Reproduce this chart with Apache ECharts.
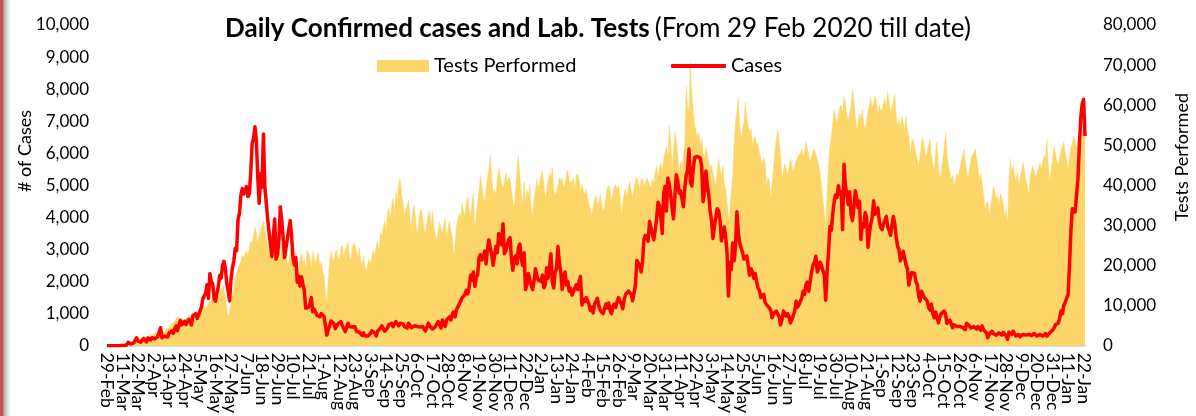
<!DOCTYPE html>
<html>
<head>
<meta charset="UTF-8">
<title>Daily Confirmed cases and Lab. Tests</title>
<script src="https://cdn.jsdelivr.net/npm/echarts@6/dist/echarts.min.js"></script>
<style>
  html, body { margin: 0; padding: 0; background: #fff; }
  #main { width: 1196px; height: 416px; }
</style>
</head>
<body>
<div id="main"></div>
<script type="text/javascript">
// first day shown on the x axis, one category per day
var firstDay = Date.UTC(2020, 1, 29);
var monthNames = ['Jan', 'Feb', 'Mar', 'Apr', 'May', 'Jun', 'Jul', 'Aug', 'Sep', 'Oct', 'Nov', 'Dec'];
var labelEvery = 11; // one date label every 11 days

// daily confirmed cases, one row = 11 days
var casesDaily = [
  2,0,1,0,0,1,0,0,2,3,4,
  1,5,6,22,105,52,55,78,89,146,244,
  140,160,110,150,220,170,120,240,220,180,250,
  230,210,240,280,270,560,250,260,300,320,270,
  390,430,460,380,520,610,470,510,790,650,600,
  760,660,740,820,800,650,940,900,1000,850,960,
  1080,1200,1460,1500,1640,1900,1480,2250,2000,1930,1470,
  1390,1650,1850,2200,2100,2500,2630,2400,1950,1700,1400,
  2080,2430,2640,3040,2960,3940,4130,4690,4900,4730,4730,
  4960,4650,4730,5390,6300,6470,6830,6400,5250,4440,5360,
  4940,6600,4950,4470,3950,3890,3140,2780,3390,3950,2700,
  2850,3300,4330,3900,3380,2750,2760,3340,3350,3900,3400,
  2750,2520,2750,1980,2170,1860,2150,1920,1740,1170,1230,
  1200,1300,1500,1060,1140,1080,950,1000,900,1000,950,
  920,640,330,480,620,770,800,690,530,540,690,
  640,750,620,590,440,550,700,600,650,580,600,
  590,450,480,420,380,320,400,300,250,300,350,
  380,460,500,400,300,450,480,550,620,540,450,
  440,550,660,600,700,590,640,750,780,620,700,
  750,680,600,630,550,700,710,560,580,620,570,
  600,630,580,520,600,650,460,520,700,620,640,
  520,480,590,620,750,700,550,800,720,600,800,
  750,900,800,980,1050,900,1120,1170,1300,1380,1500,
  1440,1590,1730,1620,1820,2200,2050,2300,1850,2130,2210,
  2740,2840,2670,2760,2950,2550,3010,3300,3050,2830,2510,
  2460,3100,2900,3500,3300,3150,3800,2870,2950,3150,3300,
  3370,2700,2350,2730,2800,2550,3080,3170,2700,2500,2900,
  1750,1900,2250,2250,1900,1750,2000,2400,2200,2050,2040,
  2000,2200,1810,1900,2430,2100,2430,2870,2000,1800,2300,
  2400,3090,2600,2300,1750,2100,2300,1900,2000,1700,1800,
  1580,1630,1800,1900,1750,2000,2160,1270,1450,1380,1500,
  1400,1300,1100,1200,1020,1300,1380,1480,1250,1100,1050,
  1000,1020,1300,1180,1330,1100,1000,1230,1300,1190,1380,
  1500,1380,1300,1150,1430,1600,1590,1700,1650,1590,1400,
  1390,1900,2660,2600,2500,2300,2600,3300,3440,3500,3260,
  3880,3670,3670,3300,3600,3950,4470,4370,4000,3500,4740,
  4970,4200,5230,5020,4700,4300,3960,4680,5330,5140,4760,
  4830,4600,4330,4900,5300,5500,6130,5100,4980,5500,5880,
  5870,5900,5950,5850,5600,4490,4800,5450,5000,4700,4200,
  3900,3340,3700,3980,4270,4200,3900,3270,3450,3700,3400,
  2900,1550,2600,2380,3200,2650,3100,4180,3500,3200,3170,
  2900,2700,2660,2800,2500,2200,2400,2300,2100,2250,2000,
  1800,1720,1500,1490,1600,1350,1280,1300,1180,1100,870,
  1000,950,1080,1050,900,650,820,1080,1000,920,1000,
  900,710,820,940,1080,1390,1200,1280,1300,1480,1700,
  1600,1900,1980,1700,2000,2300,2510,2600,2790,2300,2400,
  2600,2500,2450,2200,1420,2300,2900,3720,3600,4100,4490,
  4700,4620,4990,4720,4800,3620,5660,5000,4700,4400,4800,
  4100,3900,4300,4830,4600,4300,4500,3310,3800,3700,4150,
  4000,3070,3500,3800,4000,4520,4100,4200,4300,3900,3700,
  3620,3800,3900,4030,3700,3600,3440,3750,4030,3800,3400,
  3100,3000,2650,2800,2940,2900,2510,2400,1890,2100,2280,
  2280,2260,2000,1900,1550,1390,1700,1600,1500,1450,1400,
  1200,1110,1300,1000,870,1050,1100,710,900,1000,950,
  1080,1000,700,660,800,700,560,650,700,600,650,
  600,650,570,620,500,700,710,620,550,500,600,
  580,520,600,560,480,620,500,450,400,250,350,
  400,450,380,420,330,380,400,350,330,420,380,
  300,200,420,380,350,450,380,300,330,350,280,
  300,350,400,330,280,350,360,320,300,380,340,
  300,340,350,320,300,350,380,300,330,400,450,
  480,550,650,700,700,850,1080,1000,1270,1350,1480,
  1580,2500,3560,4270,4300,4170,4170,5200,6230,7100,7540,
  7680,6540
];

// daily lab tests performed, one row = 11 days
var testsDaily = [
  100,80,120,150,100,200,150,180,200,250,300,
  300,400,500,600,800,700,900,1000,1200,1400,1500,
  1600,1700,2000,1800,2300,2400,2100,2500,2200,2700,2800,
  2900,3000,3200,3300,3100,3600,3800,3500,3900,4100,4000,
  4400,5000,5600,5400,6000,6700,7400,6200,6600,6900,6100,
  6500,6900,7300,6600,7500,7800,7200,8000,8200,7600,8500,
  8700,9000,9500,10100,9300,9900,10500,10200,11500,12000,10600,
  11000,12500,13000,14200,13500,15000,14400,12000,9500,7000,8500,
  10500,12800,14300,16800,18000,19500,20000,21000,22500,22000,23000,
  23500,22800,24300,26000,25500,27300,29700,28000,25500,27500,28600,
  30000,31200,29000,27000,24800,23000,21800,22500,24000,23500,22000,
  23000,24300,21500,25000,23600,22000,24000,20500,21000,22800,24300,
  22000,19800,23500,21000,18600,22000,23000,20600,21500,19000,23800,
  23200,22000,19000,23500,21800,20500,22500,23200,19600,21000,18500,
  17600,13000,11100,16000,21000,23500,22000,20800,23200,24000,21500,
  22000,24500,25000,21500,23800,24700,25800,22300,21000,24200,25700,
  25000,23600,22000,24500,21300,20200,22400,19500,18600,20400,21600,
  20500,22300,23800,22000,24800,26000,23500,28400,27300,29500,31000,
  29000,33000,34200,31500,35000,36800,33000,38400,36000,40800,41600,
  38000,35600,32500,33800,34800,36500,30800,29600,33400,35100,31200,
  27500,30000,33200,34000,31500,29000,27800,30600,32800,33600,29400,
  33500,30200,27500,26300,28600,31000,29200,27700,30000,31800,26900,
  29500,31200,28800,27000,22300,25500,30000,31500,33000,32000,35400,
  33500,32300,36000,37000,34000,31500,35800,38000,29000,32500,36200,
  38500,42400,40000,37000,35800,39500,41800,44000,47300,42500,38000,
  39000,37500,41500,44100,42600,40500,39200,40800,43000,41000,42000,
  41500,38500,36000,34200,39000,44500,47300,42000,38200,35000,41000,
  35800,39000,37200,40200,34000,32500,36500,38800,41500,39500,40600,
  42500,43600,40000,36800,38500,41200,43000,42000,44500,39000,37500,
  37500,40000,42000,41000,41800,39300,40500,42900,43800,41000,40500,
  40500,41800,39200,42300,42900,41500,38500,40200,39800,37500,39000,
  37000,35400,34000,32200,34800,36500,37500,35000,36000,37800,35200,
  33500,34500,37000,39200,40000,38500,36000,37800,39500,40200,38800,
  40000,37600,32500,35500,38000,39200,37000,39800,40800,38500,37000,
  39000,41000,42100,40500,38800,41300,41800,39800,40500,42000,41000,
  40800,39300,41600,40500,43200,44900,42000,44300,45500,43800,46500,
  48000,49800,47000,54700,50500,44100,48500,53200,51000,47500,43300,
  46000,43300,47500,49800,64700,60000,58000,70600,63000,58200,55000,
  54700,52000,53200,50000,51500,48300,47000,49500,47800,46000,44500,
  45000,43000,41500,39900,43500,46600,44000,42500,44800,40500,39000,
  36000,31000,33500,38400,42000,50000,56000,58500,61900,55000,51500,
  51500,56000,60600,57000,55000,53200,54000,49800,51500,52200,50000,
  50500,48000,46500,44900,47000,45500,39900,42000,41000,36700,40500,
  44000,49000,51500,54000,50500,47000,41600,43500,45300,44000,42500,
  44500,46600,45000,43500,44800,46000,45800,47500,48000,49100,47000,
  48500,50800,49000,47500,45800,47200,48500,49000,49100,46500,45000,
  43300,40000,36700,33000,30000,38000,45000,49800,52000,55500,59000,
  57000,55500,57200,59500,60000,58000,62200,60500,57500,56400,58000,
  60000,63900,61000,57000,54000,55500,58000,56400,59000,55000,54000,
  56000,58500,60000,61900,59500,60500,62200,61000,57800,60000,58500,
  59000,60500,61500,60000,63200,61000,58200,59500,60800,62700,57500,
  55000,56400,54500,57200,55500,53500,57200,54000,52300,47100,51000,
  51500,50000,48000,46500,44900,47500,50500,51900,49500,47000,48200,
  50000,51500,47000,45500,43300,48000,50800,44500,41600,43300,46000,
  49000,53200,48500,45000,43500,41600,42500,39900,41000,43000,42000,
  44100,45500,47000,49000,46000,43500,41600,44000,46500,47500,48000,
  49000,47000,44500,41600,43000,40500,37500,34200,35500,36000,32500,
  34500,37000,39900,38500,36500,37400,35000,38000,36700,35500,32000,
  34000,30000,41000,46600,43000,44900,42500,41000,43500,39900,42000,
  43500,45800,44000,41500,40000,37400,42000,43500,44900,44900,42000,
  43000,42900,45500,44000,46000,47500,46500,51500,45000,40800,44000,
  46500,49800,48000,46000,44900,47000,48500,49500,50800,48000,46000,
  44100,47000,49500,50500,52300,51000,49000,50800,52500,51500,53200,
  54500,53000
];

// date labels, e.g. "29-Feb"
var categories = [];
for (var i = 0; i < casesDaily.length; i++) {
  var d = new Date(firstDay + i * 86400000);
  categories.push(d.getUTCDate() + '-' + monthNames[d.getUTCMonth()]);
}

function withCommas(v) {
  return String(v).replace(/\B(?=(\d{3})+(?!\d))/g, ',');
}

var yellow = '#FCD669';
var red = '#FF0000';
var font = 'Lato';

var myChart = echarts.init(document.getElementById('main'));
var option = {
  backgroundColor: '#fff',
  animation: false,
  title: {
    text: '{b|Daily Confirmed cases and Lab. Tests} {n|(From 29 Feb 2020 till date)}',
    left: 'center',
    top: 11,
    textStyle: {
      rich: {
        b: { fontFamily: font, fontWeight: 'bold', fontSize: 26, color: '#000' },
        n: { fontFamily: font, fontWeight: 'normal', fontSize: 26, color: '#000' }
      }
    }
  },
  legend: [
    {
      data: [{ name: 'Tests Performed', icon: 'rect', itemStyle: { color: yellow } }],
      left: 372, top: 51,
      itemWidth: 52, itemHeight: 12,
      textStyle: { fontFamily: font, fontSize: 20, color: '#000' }
    },
    {
      data: [{ name: 'Cases', icon: 'roundRect', itemStyle: { color: red } }],
      left: 666, top: 51,
      itemWidth: 55, itemHeight: 4,
      textStyle: { fontFamily: font, fontSize: 20, color: '#000' }
    }
  ],
  grid: { left: 107, right: 111, top: 25, bottom: 68 },
  xAxis: {
    type: 'category',
    data: categories,
    boundaryGap: false,
    axisTick: { show: false },
    axisLine: { lineStyle: { color: '#d9d9d9', width: 2 } },
    axisLabel: {
      interval: 0,
      rotate: -90,
      margin: 7,
      fontFamily: font,
      fontSize: 17.5,
      color: '#000',
      formatter: function (value, index) {
        return index % labelEvery === 0 ? value : '';
      }
    },
    splitLine: { show: false }
  },
  yAxis: [
    {
      type: 'value',
      min: 0, max: 10000, interval: 1000,
      axisLine: { show: false },
      axisTick: { show: false },
      splitLine: { show: false },
      axisLabel: { margin: 18, fontFamily: font, fontSize: 17, color: '#000', formatter: withCommas }
    },
    {
      type: 'value',
      min: 0, max: 80000, interval: 10000,
      axisLine: { show: false },
      axisTick: { show: false },
      splitLine: { show: false },
      axisLabel: { margin: 18, fontFamily: font, fontSize: 17, color: '#000', formatter: withCommas }
    }
  ],
  graphic: [
    { type: 'rect', left: 0, top: 0, shape: { width: 3, height: 416 }, style: { fill: '#d24a56' } },
    {
      type: 'rect', left: 3, top: 0, shape: { width: 10, height: 416 },
      style: {
        fill: new echarts.graphic.LinearGradient(0, 0, 1, 0, [
          { offset: 0, color: 'rgba(130,130,130,0.85)' },
          { offset: 1, color: 'rgba(255,255,255,0)' }
        ])
      }
    },
    {
      type: 'text', left: 16, top: 110, rotation: Math.PI / 2,
      style: { text: '# of Cases', fontFamily: font, fontSize: 18, fill: '#000' }
    },
    {
      type: 'text', left: 1173, top: 93, rotation: Math.PI / 2,
      style: { text: 'Tests Performed', fontFamily: font, fontSize: 18, fill: '#000' }
    }
  ],
  series: [
    {
      name: 'Tests Performed',
      type: 'line',
      yAxisIndex: 1,
      data: testsDaily,
      showSymbol: false,
      symbol: 'none',
      itemStyle: { color: yellow },
      lineStyle: { width: 0.5, color: yellow },
      areaStyle: { color: yellow, opacity: 1 },
      z: 1
    },
    {
      name: 'Cases',
      type: 'line',
      yAxisIndex: 0,
      data: casesDaily,
      showSymbol: false,
      symbol: 'none',
      itemStyle: { color: red },
      lineStyle: { width: 3.5, color: red, join: 'round' },
      z: 3
    }
  ]
};
myChart.setOption(option);
</script>
</body>
</html>
